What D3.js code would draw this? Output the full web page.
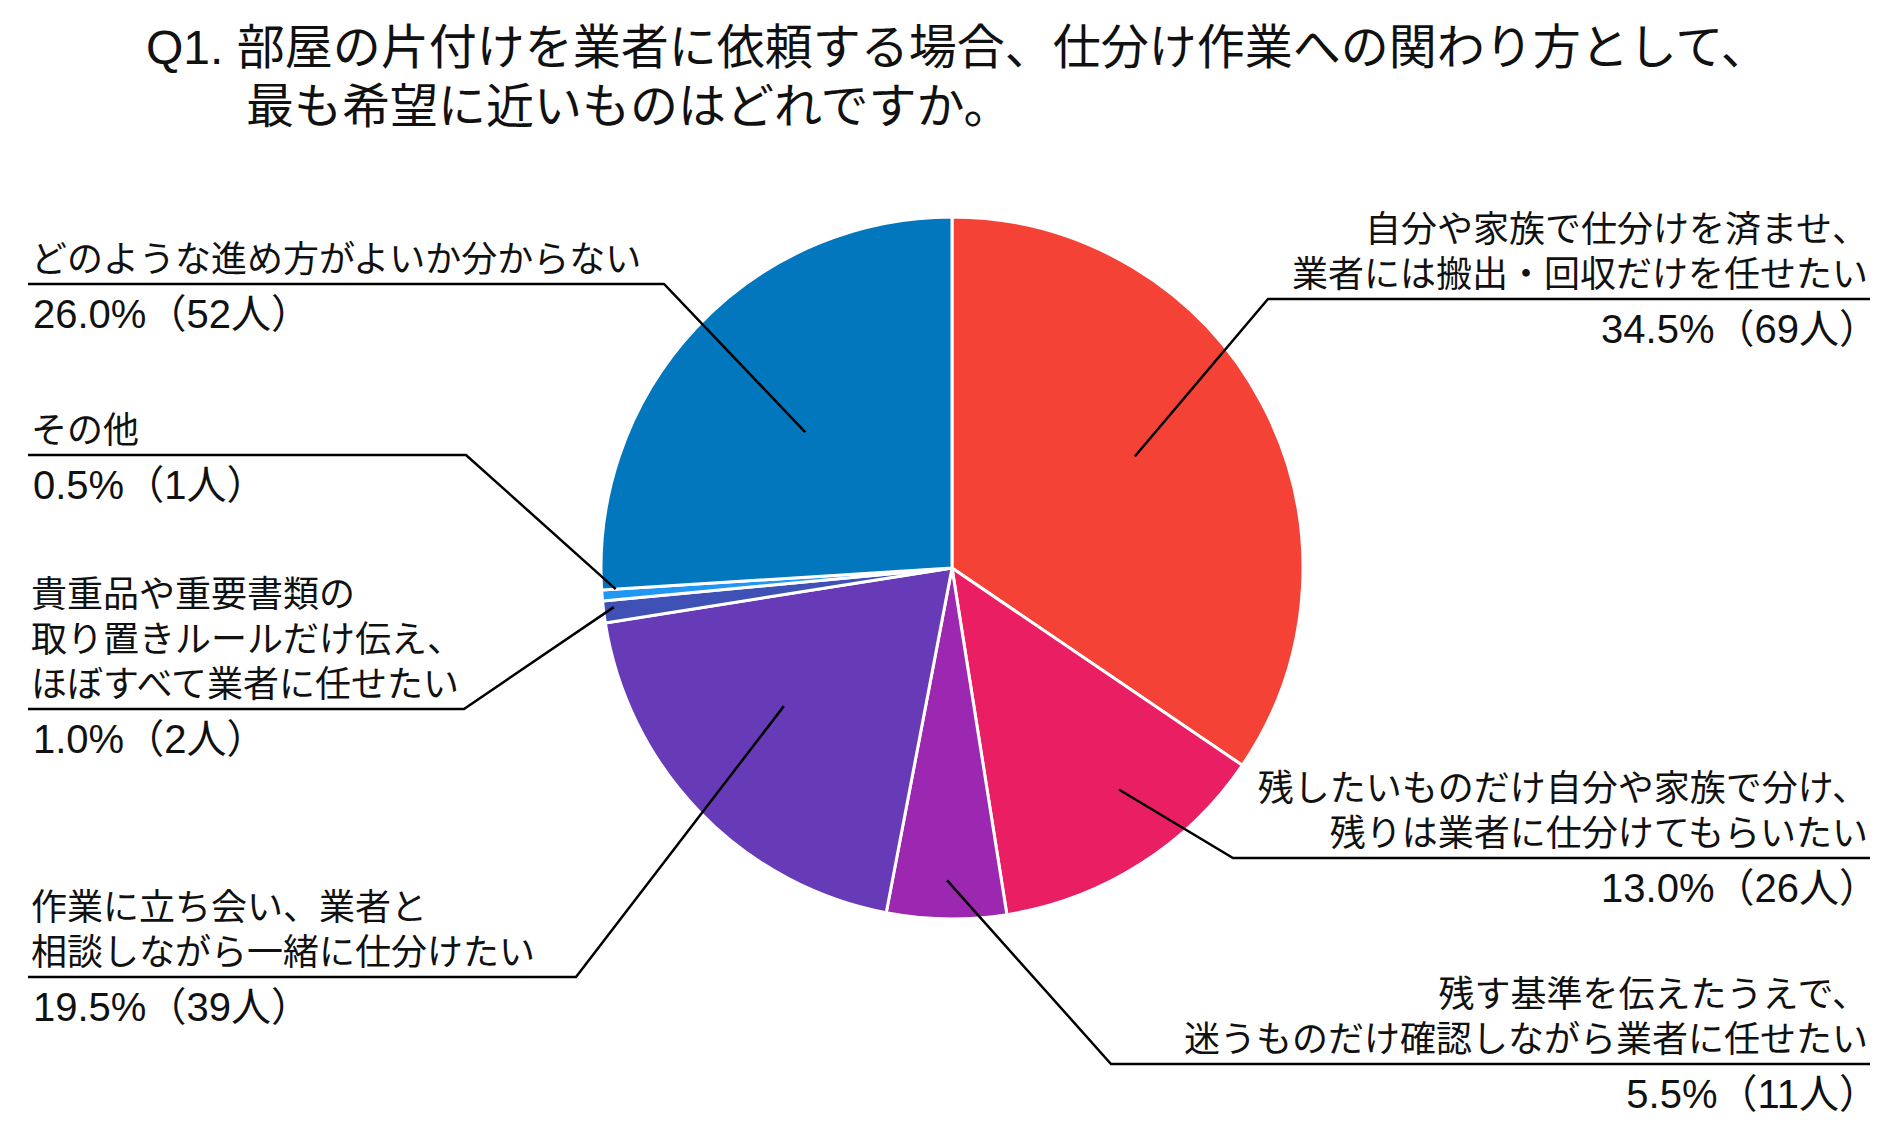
<!DOCTYPE html>
<html><head><meta charset="utf-8">
<script src="https://cdn.jsdelivr.net/npm/d3@7/dist/d3.min.js"></script>
<style>
html,body{margin:0;padding:0;background:#fff;}
svg{display:block;}
text{font-family:"Liberation Sans","Noto Sans CJK JP",sans-serif;fill:#111;}
</style></head>
<body>
<script>
// ---- data ----
const titleLines = ["Q1. 部屋の片付けを業者に依頼する場合、仕分け作業への関わり方として、", "最も希望に近いものはどれですか。"];
const categories = [
  ["自分や家族で仕分けを済ませ、", "業者には搬出・回収だけを任せたい"],
  ["残したいものだけ自分や家族で分け、", "残りは業者に仕分けてもらいたい"],
  ["残す基準を伝えたうえで、", "迷うものだけ確認しながら業者に任せたい"],
  ["作業に立ち会い、業者と", "相談しながら一緒に仕分けたい"],
  ["貴重品や重要書類の", "取り置きルールだけ伝え、", "ほぼすべて業者に任せたい"],
  ["その他"],
  ["どのような進め方がよいか分からない"]
];
const percents = [34.5, 13.0, 5.5, 19.5, 1.0, 0.5, 26.0];
const counts = [69, 26, 11, 39, 2, 1, 52];
const colors = ["#F44336", "#E91E63", "#9C27B0", "#673AB7", "#3F51B5", "#2196F3", "#0277BD"];

// ---- layout (label blocks and leader end points, polar: degrees clockwise from top, radius fraction) ----
const W = 1888, H = 1127;
const cx = 952, cy = 568, R = 351;
const labelLayout = [
  {side:"right", y:299, x0:1268, x1:1870, a:58.6, r:0.61},
  {side:"right", y:858, x0:1233, x1:1870, a:143, r:0.79},
  {side:"right", y:1064, x0:1111, x1:1870, a:180.9, r:0.89},
  {side:"left",  y:977, x0:28, x1:576, a:230.6, r:0.62},
  {side:"left",  y:709, x0:28, x1:464, a:263.4, r:0.97},
  {side:"left",  y:455, x0:28, x1:466, a:266.4, r:0.96},
  {side:"left",  y:284, x0:28, x1:664, a:312.8, r:0.57}
];

const svg = d3.select("body").append("svg").attr("width", W).attr("height", H);

// title
svg.append("text").attr("font-size", 48).attr("x", 146).attr("y", 64).text(titleLines[0]);
svg.append("text").attr("font-size", 48).attr("x", 246).attr("y", 123).text(titleLines[1]);

// pie
const pie = d3.pie().sort(null).value(d => d).startAngle(0).endAngle(2 * Math.PI);
const arcs = pie(percents);
const arc = d3.arc().innerRadius(0).outerRadius(R);
const g = svg.append("g").attr("transform", `translate(${cx},${cy})`);
g.selectAll("path.slice").data(arcs).join("path")
  .attr("class", "slice")
  .attr("d", arc)
  .attr("fill", (d, i) => colors[i])
  .attr("stroke", "#fff")
  .attr("stroke-width", 3)
  .attr("stroke-linejoin", "round");

// labels and leaders
const fs = 36, lh = 45, vfs = 40;
arcs.forEach((a, i) => {
  const L = labelLayout[i];
  const ang = L.a * Math.PI / 180;
  const px = cx + Math.sin(ang) * R * L.r;
  const py = cy - Math.cos(ang) * R * L.r;
  const outerX = L.side === "right" ? L.x1 : L.x0;
  const innerX = L.side === "right" ? L.x0 : L.x1;
  svg.append("polyline")
    .attr("points", `${outerX},${L.y} ${innerX},${L.y} ${px},${py}`)
    .attr("fill", "none").attr("stroke", "#000").attr("stroke-width", 2.5);
  const lines = categories[i];
  const anchor = L.side === "right" ? "end" : "start";
  const tx = L.side === "right" ? L.x1 - 2 : L.x0 + 3;
  lines.forEach((s, k) => {
    svg.append("text").attr("font-size", fs).attr("text-anchor", anchor)
      .attr("x", tx).attr("y", L.y - 12 - (lines.length - 1 - k) * lh).text(s);
  });
  svg.append("text").attr("x", L.side === "right" ? L.x1 + 9 : L.x0 + 5).attr("y", L.y + 44)
    .attr("font-size", vfs).attr("text-anchor", anchor)
    .text(`${percents[i].toFixed(1)}%（${counts[i]}人）`);
});
</script>
</body></html>
